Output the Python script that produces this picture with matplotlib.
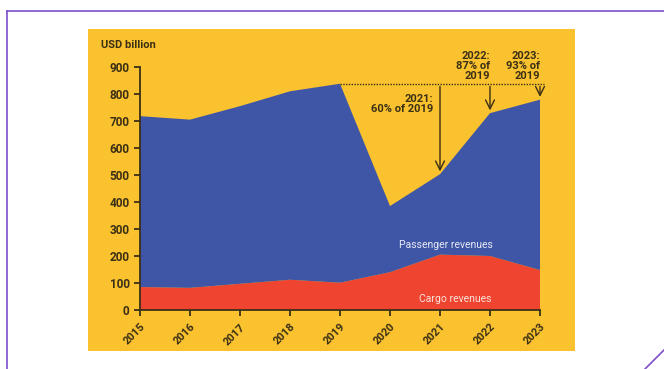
import matplotlib.pyplot as plt
from matplotlib.patches import Rectangle
from matplotlib.lines import Line2D

plt.rcParams['font.family'] = ['Roboto', 'DejaVu Sans']

years = [2015, 2016, 2017, 2018, 2019, 2020, 2021, 2022, 2023]
cargo = [85, 82, 97, 112, 101, 140, 205, 200, 148]
passenger = [633, 623, 658, 698, 737, 245, 298, 529, 631]
share_labels = {2021: '2021:\n60% of 2019', 2022: '2022:\n87% of\n2019', 2023: '2023:\n93% of\n2019'}

YELLOW = '#f9c22e'
BLUE = '#3f56a6'
RED = '#ee4430'
INK = '#3b2f16'
PURPLE = '#7d4fc9'

total = [c + p for c, p in zip(cargo, passenger)]
base = total[years.index(2019)]

fig = plt.figure(figsize=(6.64, 3.69), dpi=100)
fig.patch.set_facecolor('white')

# page frame lines
fig.add_artist(Line2D([7 / 664, 7 / 664], [0, 1 - 11 / 369], color=PURPLE, lw=1.2))
fig.add_artist(Line2D([7 / 664, 1], [1 - 11 / 369, 1 - 11 / 369], color=PURPLE, lw=1.2))
fig.add_artist(Line2D([645 / 664, 1], [0, 1 - 350 / 369], color=PURPLE, lw=1.2))

# yellow panel
fig.add_artist(Rectangle((88 / 664, 1 - 351 / 369), (575 - 88) / 664, (351 - 29) / 369,
                         facecolor=YELLOW, edgecolor='none', zorder=0))

ax = fig.add_axes([140 / 664, 1 - 310 / 369, 400 / 664, 243 / 369])
ax.set_facecolor('none')
ax.stackplot(years, cargo, passenger, colors=[RED, BLUE], linewidth=0)
ax.set_xlim(2015, 2023)
ax.set_ylim(0, 900)

for s in ['top', 'right']:
    ax.spines[s].set_visible(False)
for s in ['left', 'bottom']:
    ax.spines[s].set_color(INK)
    ax.spines[s].set_linewidth(1.3)
ax.spines['bottom'].set_zorder(5)

ax.set_yticks(range(0, 901, 100))
ax.set_xticks(years)
ax.tick_params(colors=INK, length=4.5, width=1.3, pad=3)
ax.tick_params(axis='y', labelsize=8.5)
ax.tick_params(axis='x', labelsize=8, pad=4)
for lab in ax.get_yticklabels() + ax.get_xticklabels():
    lab.set_fontweight('bold')
plt.setp(ax.get_xticklabels(), rotation=45, ha='right', va='top', rotation_mode='anchor')

fig.text(101 / 664, 1 - 45 / 369, 'USD billion', fontsize=8, fontweight='bold', color=INK,
         ha='left', va='center')

# 2019 reference level and recovery arrows
ax.plot([2019, 2023.08], [base, base], color=INK, lw=1, ls=(0, (1, 1)), clip_on=False)
for yr, text in share_labels.items():
    v = total[years.index(yr)]
    ax.annotate('', xy=(yr, v), xytext=(yr, base),
                arrowprops=dict(arrowstyle='->', color=INK, lw=1, mutation_scale=16))
ax.text(2020.86, 762, share_labels[2021], ha='right', va='center', fontsize=8,
        fontweight='bold', color=INK, linespacing=1.0)
for yr in (2022, 2023):
    ax.text(yr, 905, share_labels[yr], ha='right', va='center', fontsize=8,
            fontweight='bold', color=INK, linespacing=1.0, clip_on=False)

ax.text(2021.12, 241, 'Passenger revenues', ha='center', va='center', fontsize=7.5,
        color='#e8eaf6')
ax.text(2021.31, 41, 'Cargo revenues', ha='center', va='center', fontsize=7.5,
        color='#fbe3dc')

fig.savefig('out.png', dpi=100)
